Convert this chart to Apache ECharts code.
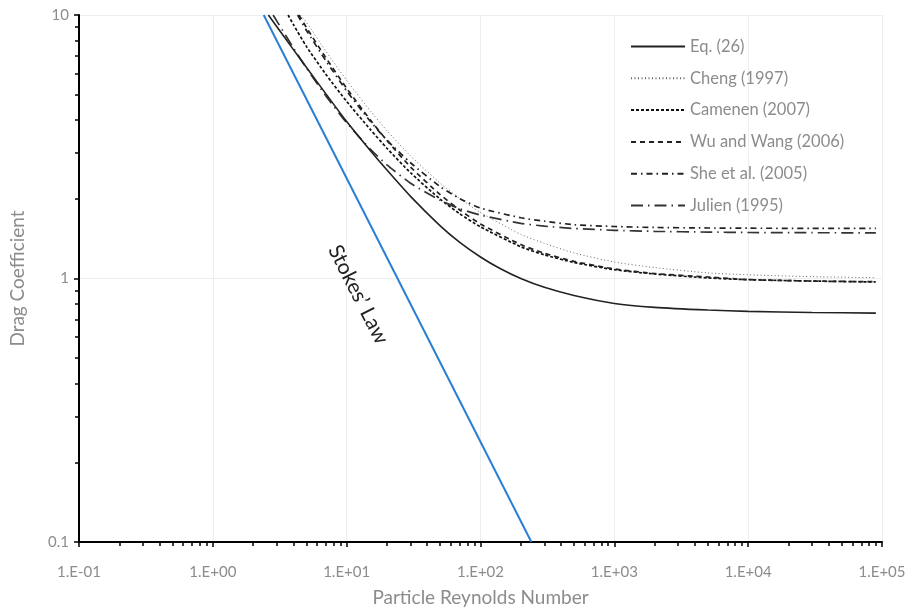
<!DOCTYPE html>
<html>
<head>
<meta charset="utf-8">
<script src="https://cdn.jsdelivr.net/npm/echarts@6/dist/echarts.min.js"></script>
<style>
html,body{margin:0;padding:0;background:#fff;}
#chart{width:916px;height:612px;}
</style>
</head>
<body>
<div id="chart"></div>
<script>
// ---- Data ----
const xTickValues = [0.1, 1, 10, 100, 1000, 10000, 100000];
const xTickLabels = ['1.E-01', '1.E+00', '1.E+01', '1.E+02', '1.E+03', '1.E+04', '1.E+05'];
const yTickValues = [0.1, 1, 10];
const yTickLabels = ['0.1', '1', '10'];
const xMinorTicks = [0.2,0.3,0.4,0.5,0.6,0.7,0.8,0.9,2,3,4,5,6,7,8,9,20,30,40,50,60,70,80,90,200,300,400,500,600,700,800,900,2000,3000,4000,5000,6000,7000,8000,9000,20000,30000,40000,50000,60000,70000,80000,90000];
const yMinorTicks = [0.2,0.3,0.4,0.5,0.6,0.7,0.8,0.9,2,3,4,5,6,7,8,9];

const stokesRe = [2.4, 240];
const stokesCd = [10, 0.1];

const eq26Re = [2.6, 3, 4, 5, 7, 10, 15, 20, 30, 50, 70, 100, 140, 200, 300, 500, 1000, 2000, 5000, 10000, 30000, 90000];
const eq26Cd = [10, 9.04, 7.39, 6.33, 5.02, 3.94, 3.06, 2.58, 2.05, 1.585, 1.372, 1.207, 1.091, 1.0, 0.926, 0.862, 0.804, 0.777, 0.759, 0.750, 0.743, 0.739];

const chengRe = [4.5, 5, 7, 10, 15, 20, 30, 50, 70, 100, 200, 300, 500, 1000, 2000, 5000, 10000, 30000, 90000];
const chengCd = [10, 9.38, 7.28, 5.65, 4.33, 3.64, 2.92, 2.30, 2.01, 1.78, 1.47, 1.36, 1.25, 1.155, 1.10, 1.05, 1.033, 1.016, 1.007];

const camenenRe = [3.65, 4, 5, 7, 10, 15, 20, 30, 50, 70, 100, 200, 300, 500, 1000, 2000, 5000, 10000, 30000, 90000];
const camenenCd = [10, 9.2, 7.6, 5.95, 4.7, 3.68, 3.12, 2.52, 2.0, 1.76, 1.57, 1.32, 1.23, 1.15, 1.08, 1.04, 1.005, 0.99, 0.978, 0.97];

const wuRe = [4.4, 5, 7, 10, 15, 20, 30, 50, 70, 100, 200, 300, 500, 1000, 2000, 5000, 10000, 30000, 90000];
const wuCd = [10, 8.97, 6.88, 5.27, 4.0, 3.34, 2.65, 2.08, 1.82, 1.61, 1.345, 1.247, 1.161, 1.087, 1.044, 1.013, 0.99, 0.978, 0.972];

const sheRe = [4.3, 5, 7, 10, 15, 20, 30, 50, 70, 100, 200, 300, 500, 1000, 2000, 5000, 10000, 30000, 90000];
const sheCd = [10, 8.75, 6.7, 5.15, 3.95, 3.35, 2.75, 2.23, 2.01, 1.85, 1.70, 1.65, 1.60, 1.575, 1.562, 1.555, 1.552, 1.55, 1.55];

const julienRe = [2.82, 3, 4, 5, 7, 10, 15, 20, 30, 50, 70, 100, 200, 300, 500, 1000, 2000, 5000, 10000, 30000, 90000];
const julienCd = [10, 9.5, 7.5, 6.3, 4.93, 3.9, 3.1, 2.7, 2.3, 1.98, 1.84, 1.74, 1.62, 1.58, 1.548, 1.524, 1.51, 1.50, 1.495, 1.492, 1.49];

const seriesNames = ['Eq. (26)', 'Cheng (1997)', 'Camenen (2007)', 'Wu and Wang (2006)', 'She et al. (2005)', 'Julien (1995)'];
const stokesLabel = 'Stokes\u2019 Law';
const xName = 'Particle Reynolds Number';
const yName = 'Drag Coefficient';

// ---- Build chart ----
const zip = (a, b) => a.map((v, i) => [v, b[i]]);
const textColor = '#8c8c8c';
const font = 'Lato, "Open Sans", sans-serif';

function nearestLabel(v, vals, labels) {
  let best = 0, bd = Infinity;
  vals.forEach((t, i) => { const d = Math.abs(Math.log10(v) - Math.log10(t)); if (d < bd) { bd = d; best = i; } });
  return bd < 0.01 ? labels[best] : '';
}

const chart = echarts.init(document.getElementById('chart'), null, { renderer: 'canvas' });

function lineSeries(name, re, cd, type, width, color, z) {
  return {
    name: name, type: 'line', data: zip(re, cd), symbol: 'none', showSymbol: false,
    smooth: 0.2,
    lineStyle: { type: type, width: width, color: color },
    itemStyle: { color: color },
    z: z || 3, clip: true, silent: true
  };
}

const axisLineStyle = { color: '#000', width: 2 };
const tickStyle = { color: '#000', width: 1.5 };

const option = {
  animation: false,
  backgroundColor: '#fff',
  grid: { left: 79, right: 34, top: 15, bottom: 65, containLabel: false },
  legend: {
    data: seriesNames,
    orient: 'vertical',
    left: 625, top: 33,
    itemWidth: 54, itemHeight: 14, itemGap: 14.8,
    itemStyle: { opacity: 0 },
    textStyle: { color: textColor, fontSize: 16.5, fontFamily: font, padding: [0, 0, 0, 0] }
  },
  xAxis: [{
    type: 'log', logBase: 10, min: 0.1, max: 100000,
    name: xName, nameLocation: 'middle', nameGap: 46,
    nameTextStyle: { color: textColor, fontSize: 19, fontFamily: font },
    axisLine: { show: true, onZero: false, lineStyle: axisLineStyle },
    axisTick: { show: true, length: 5, lineStyle: tickStyle, customValues: xTickValues },
    axisLabel: { color: textColor, fontSize: 15, fontFamily: font, margin: 23,
      customValues: xTickValues,
      formatter: v => nearestLabel(v, xTickValues, xTickLabels) },
    splitLine: { show: true, lineStyle: { color: '#eeeeee', width: 1 } }
  }, {
    type: 'log', logBase: 10, min: 0.1, max: 100000, position: 'bottom', gridIndex: 0,
    axisLine: { show: false },
    axisTick: { show: true, length: 4, lineStyle: tickStyle, customValues: xMinorTicks },
    axisLabel: { show: false },
    splitLine: { show: false }
  }],
  yAxis: [{
    type: 'log', logBase: 10, min: 0.1, max: 10,
    name: yName, nameLocation: 'middle', nameGap: 52, nameRotate: 90,
    nameTextStyle: { color: textColor, fontSize: 19, fontFamily: font },
    axisLine: { show: true, onZero: false, lineStyle: axisLineStyle },
    axisTick: { show: true, length: 5, lineStyle: tickStyle, customValues: yTickValues },
    axisLabel: { color: textColor, fontSize: 15, fontFamily: font, margin: 10,
      customValues: yTickValues,
      formatter: v => nearestLabel(v, yTickValues, yTickLabels) },
    splitLine: { show: true, lineStyle: { color: '#eeeeee', width: 1 } }
  }, {
    type: 'log', logBase: 10, min: 0.1, max: 10, position: 'left', gridIndex: 0,
    axisLine: { show: false },
    axisTick: { show: true, length: 4, lineStyle: tickStyle, customValues: yMinorTicks },
    axisLabel: { show: false },
    splitLine: { show: false }
  }],
  series: [
    lineSeries(seriesNames[0], eq26Re, eq26Cd, 'solid', 1.6, '#222', 5),
    lineSeries(seriesNames[1], chengRe, chengCd, [1, 2.5], 1, '#666', 4),
    lineSeries(seriesNames[2], camenenRe, camenenCd, [3, 2], 1.7, '#111', 4),
    lineSeries(seriesNames[3], wuRe, wuCd, [5, 4], 1.7, '#222', 4),
    lineSeries(seriesNames[4], sheRe, sheCd, [6, 4, 1.5, 4], 1.7, '#222', 4),
    lineSeries(seriesNames[5], julienRe, julienCd, [12, 5, 1.5, 5], 1.7, '#333', 4),
    {
      name: 'Stokes', type: 'line', data: zip(stokesRe, stokesCd), symbol: 'none',
      lineStyle: { color: '#2a7fd4', width: 2 }, z: 6, silent: true
    }
  ]
};
chart.setOption(option);

// Stokes' Law annotation placed in data coordinates, rotated along the blue line
const p0 = chart.convertToPixel({ gridIndex: 0 }, [stokesRe[0], stokesCd[0]]);
const p1 = chart.convertToPixel({ gridIndex: 0 }, [stokesRe[1], stokesCd[1]]);
const ang = Math.atan2(p1[1] - p0[1], p1[0] - p0[0]);
const lp = chart.convertToPixel({ gridIndex: 0 }, [12.2, 0.87]);
chart.setOption({
  graphic: [{
    type: 'text', x: lp[0], y: lp[1], rotation: -ang,
    style: { text: stokesLabel, fill: '#222', fontSize: 21, fontFamily: font, align: 'center', verticalAlign: 'middle' },
    z: 10
  }]
});
</script>
</body>
</html>
